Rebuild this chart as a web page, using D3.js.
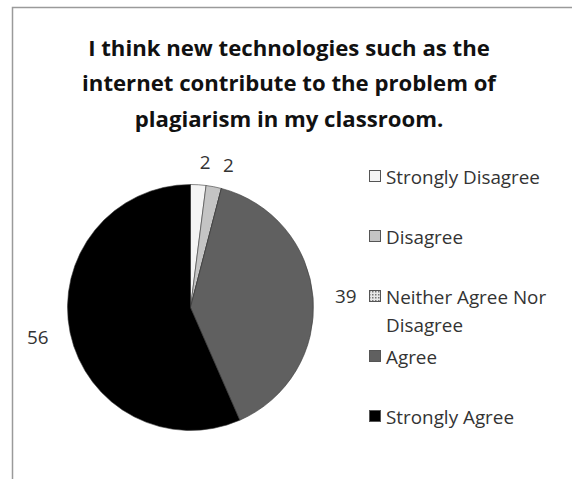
<!DOCTYPE html>
<html><head><meta charset="utf-8">
<script src="https://cdn.jsdelivr.net/npm/d3@7"></script>
<style>html,body{margin:0;padding:0;background:#fff;}svg{display:block;}</style>
</head><body>
<svg id="c" width="572" height="479"></svg>
<script>
const titleLines = ["I think new technologies such as the", "internet contribute to the problem of", "plagiarism in my classroom."];
const categories = ["Strongly Disagree", "Disagree", "Neither Agree Nor Disagree", "Agree", "Strongly Agree"];
const legendLines = [["Strongly Disagree"], ["Disagree"], ["Neither Agree Nor", "Disagree"], ["Agree"], ["Strongly Agree"]];
const values = [2, 2, 0, 39, 56];
const colors = ["#f4f4f4", "#c4c4c4", "#d8d8d8", "#606060", "#000000"];

const svg = d3.select("#c");
const font = "'Open Sans', Lato, sans-serif";

function fitSize(text, weight, target) {
  const t = svg.append("text").attr("font-family", font).attr("font-weight", weight).attr("font-size", 20).text(text);
  const w = t.node().getComputedTextLength();
  t.remove();
  return 20 * target / w;
}
const titleSize = fitSize(titleLines[0], "bold", 402);
const textSize = fitSize("Strongly Disagree", "normal", 154);

// chart border
svg.append("path").attr("d", "M12.5,479 L12.5,7.5 L572,7.5").attr("fill", "none").attr("stroke", "#9a9a9a").attr("stroke-width", 1.5);

// title
svg.append("g").selectAll("text").data(titleLines).join("text")
  .attr("x", 289).attr("y", (d, i) => 48 + i * 35.5).attr("dy", "0.35em")
  .attr("text-anchor", "middle").attr("font-family", font).attr("font-weight", "bold")
  .attr("font-size", titleSize).attr("fill", "#111").text(d => d);

const cx = 190.5, cy = 307.5, r = 123;
const pie = d3.pie().sort(null).value(d => d)(values);
const arc = d3.arc().innerRadius(0).outerRadius(r);
const g = svg.append("g").attr("transform", `translate(${cx},${cy})`);

const defs = svg.append("defs");
const pat = defs.append("pattern").attr("id", "chk").attr("width", 3).attr("height", 3).attr("patternUnits", "userSpaceOnUse");
pat.append("rect").attr("width", 3).attr("height", 3).attr("fill", "#e8e8e8");
pat.append("rect").attr("width", 1.5).attr("height", 1.5).attr("fill", "#777");

g.selectAll("path").data(pie).join("path")
  .attr("d", arc)
  .attr("fill", (d, i) => i === 2 ? "url(#chk)" : colors[i])
  .attr("stroke", "#3a3a3a").attr("stroke-width", 0.6);

// data labels
const lab = d3.arc().innerRadius(r + 22).outerRadius(r + 22);
g.selectAll("text").data(pie.filter(d => d.value > 0)).join("text")
  .each(function(d, i) {
    const [x, y] = lab.centroid(d);
    d3.select(this).attr("x", x + (i === 1 ? 5 : 0)).attr("y", y)
      .attr("text-anchor", x > 5 ? "start" : (x < -5 ? "end" : "middle"));
  })
  .attr("dy", "0.35em").attr("font-family", font).attr("font-size", textSize).attr("fill", "#333")
  .text(d => d.value);

// legend
const legY = [177, 237, 297, 357, 417];
const lg = svg.append("g");
legendLines.forEach((lines, i) => {
  const y = legY[i];
  lg.append("rect").attr("x", 369.5).attr("y", y - 6.5).attr("width", 11).attr("height", 11)
    .attr("fill", i === 2 ? "url(#chk)" : colors[i]).attr("stroke", "#555").attr("stroke-width", 1);
  lines.forEach((t, j) => {
    lg.append("text").attr("x", 386).attr("y", y + j * 28).attr("dy", "0.35em")
      .attr("font-family", font).attr("font-size", textSize).attr("fill", "#333").text(t);
  });
});
</script>
</body></html>
